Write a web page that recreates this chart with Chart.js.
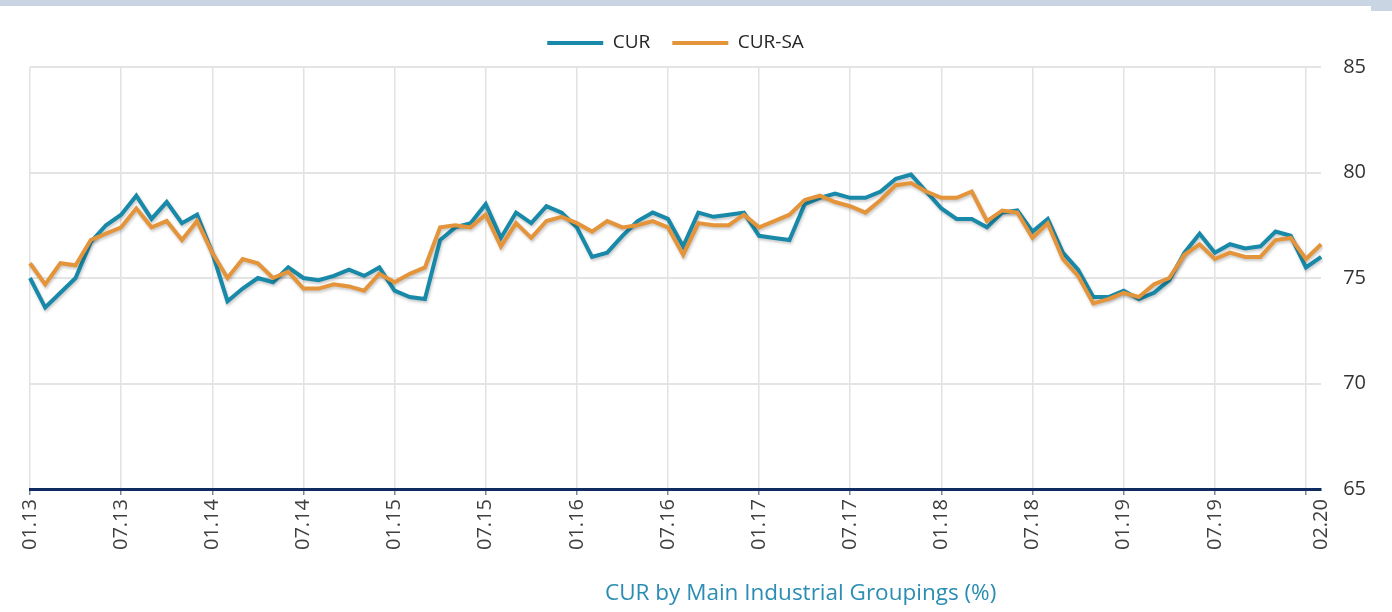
<!DOCTYPE html>
<html>
<head>
<meta charset="utf-8">
<script src="https://cdn.jsdelivr.net/npm/chart.js@4.4.1/dist/chart.umd.min.js"></script>
<style>
    html, body { margin: 0; padding: 0; background: #ffffff; }
    #wrap { position: relative; width: 1392px; height: 612px; overflow: hidden; }
    #topBar { position: absolute; left: 0; top: 0; width: 1371px; height: 6px; background: #c9d5e3; }
    #topBarEnd { position: absolute; left: 1371px; top: 0; width: 21px; height: 11px; background: #c9d5e3; }
    #chartTitle {
        position: absolute; left: 605px; top: 576px;
        font-family: "Open Sans", sans-serif; font-size: 22.5px; color: #2b8db3;
        white-space: nowrap;
    }
</style>
</head>
<body>
<div id="wrap">
    <canvas id="curChart" width="1392" height="612"></canvas>
    <div id="topBar"></div>
    <div id="topBarEnd"></div>
    <div id="chartTitle">CUR by Main Industrial Groupings (%)</div>
</div>
<script>

// =========================================
// DATA
// =========================================

var firstYear = 2013;
var monthCount = 86; // 01.13 .. 02.20

var months = [];
for (var i = 0; i < monthCount; i++) {
    var m = i % 12 + 1;
    var y = (firstYear + Math.floor(i / 12)) % 100;
    months.push((m < 10 ? "0" : "") + m + "." + (y < 10 ? "0" : "") + y);
}

var tickLabels = [
    "01.13", "07.13", "01.14", "07.14", "01.15", "07.15", "01.16",
    "07.16", "01.17", "07.17", "01.18", "07.18", "01.19", "07.19", "02.20"
];

var curValues = [
    75.0, 73.6, 74.3, 75.0, 76.7, 77.5, 78.0, 78.9, 77.8, 78.6, 77.6, 78.0,
    76.2, 73.9, 74.5, 75.0, 74.8, 75.5, 75.0, 74.9, 75.1, 75.4, 75.1, 75.5,
    74.4, 74.1, 74.0, 76.8, 77.4, 77.6, 78.5, 76.9, 78.1, 77.6, 78.4, 78.1,
    77.4, 76.0, 76.2, 77.0, 77.7, 78.1, 77.8, 76.5, 78.1, 77.9, 78.0, 78.1,
    77.0, 76.9, 76.8, 78.5, 78.8, 79.0, 78.8, 78.8, 79.1, 79.7, 79.9, 79.1,
    78.3, 77.8, 77.8, 77.4, 78.1, 78.2, 77.2, 77.8, 76.2, 75.4, 74.1, 74.1,
    74.4, 74.0, 74.3, 74.9, 76.2, 77.1, 76.2, 76.6, 76.4, 76.5, 77.2, 77.0,
    75.5, 76.0
];

var curSaValues = [
    75.7, 74.7, 75.7, 75.6, 76.8, 77.1, 77.4, 78.3, 77.4, 77.7, 76.8, 77.7,
    76.2, 75.0, 75.9, 75.7, 75.0, 75.3, 74.5, 74.5, 74.7, 74.6, 74.4, 75.2,
    74.8, 75.2, 75.5, 77.4, 77.5, 77.4, 78.0, 76.5, 77.6, 76.9, 77.7, 77.9,
    77.6, 77.2, 77.7, 77.4, 77.5, 77.7, 77.4, 76.1, 77.6, 77.5, 77.5, 78.0,
    77.4, 77.7, 78.0, 78.7, 78.9, 78.6, 78.4, 78.1, 78.7, 79.4, 79.5, 79.1,
    78.8, 78.8, 79.1, 77.7, 78.2, 78.1, 76.9, 77.6, 75.9, 75.1, 73.8, 74.0,
    74.3, 74.1, 74.7, 75.0, 76.1, 76.6, 75.9, 76.2, 76.0, 76.0, 76.8, 76.9,
    75.9, 76.6
];

var yTicks = [65, 70, 75, 80, 85];

// =========================================
// PLUGINS
// =========================================

// soft shadow under the lines
var lineShadow = {
    id: "lineShadow",
    beforeDatasetsDraw: function (chart) {
        var ctx = chart.ctx;
        ctx.save();
        ctx.shadowColor = "rgba(0, 0, 0, 0.22)";
        ctx.shadowBlur = 3;
        ctx.shadowOffsetX = 1;
        ctx.shadowOffsetY = 2;
    },
    afterDatasetsDraw: function (chart) {
        chart.ctx.restore();
    }
};

// a little more room under the legend
var legendGap = {
    id: "legendGap",
    beforeUpdate: function (chart) {
        var lg = chart.legend;
        if (lg && !lg._gapPatched) {
            var origFit = lg.fit;
            lg.fit = function () {
                origFit.call(this);
                this.height += 4.5;
            };
            lg._gapPatched = true;
        }
    }
};

// =========================================
// CHART
// =========================================

Chart.defaults.font.family = "'Open Sans', sans-serif";

var canvas = document.getElementById("curChart");

new Chart(canvas, {

    type: "line",

    data: {

        labels: months,

        datasets: [
            {
                label: "CUR",
                data: curValues,
                borderColor: "#1889a8",
                backgroundColor: "#1889a8",
                borderWidth: 4,
                pointRadius: 0,
                tension: 0,
                order: 1
            },
            {
                label: "CUR-SA",
                data: curSaValues,
                borderColor: "#e4943a",
                backgroundColor: "#e4943a",
                borderWidth: 4,
                pointRadius: 0,
                tension: 0,
                order: 0
            }
        ]
    },

    options: {

        responsive: false,
        animation: false,

        layout: {
            padding: { left: 30, right: 4, top: 11.5, bottom: 58 }
        },

        plugins: {
            legend: {
                position: "top",
                fullSize: false,
                labels: {
                    usePointStyle: true,
                    pointStyle: "line",
                    pointStyleWidth: 56,
                    padding: 22,
                    color: "#262626",
                    font: { size: 19 },
                    sort: function (a, b) {
                        return a.datasetIndex - b.datasetIndex;
                    }
                }
            },
            tooltip: { enabled: false },
            title: { display: false }
        },

        scales: {

            x: {
                offset: false,
                grid: {
                    color: function (ctx) {
                        return ctx.index % 6 === 0 ? "#e2e2e2" : "rgba(0,0,0,0)";
                    },
                    tickColor: function (ctx) {
                        return ctx.index % 6 === 0 ? "#7d8899" : "rgba(0,0,0,0)";
                    },
                    lineWidth: 1.5,
                    tickLength: 6
                },
                border: {
                    color: "#0f2b62",
                    width: 3
                },
                ticks: {
                    autoSkip: false,
                    minRotation: 90,
                    maxRotation: 90,
                    padding: 4,
                    color: "#3f3f3f",
                    font: { size: 20 },
                    callback: function (value) {
                        var lab = this.getLabelForValue(value);
                        return tickLabels.indexOf(lab) >= 0 ? lab : "";
                    }
                }
            },

            y: {
                position: "right",
                min: 65,
                max: 85,
                afterBuildTicks: function (scale) {
                    scale.ticks = yTicks.map(function (v) { return { value: v }; });
                },
                grid: {
                    color: "#e4e4e4",
                    lineWidth: 2,
                    drawTicks: false
                },
                border: { display: false },
                ticks: {
                    padding: 22,
                    color: "#333333",
                    font: { size: 20 }
                }
            }
        }
    },

    plugins: [lineShadow, legendGap]
});

</script>
</body>
</html>
